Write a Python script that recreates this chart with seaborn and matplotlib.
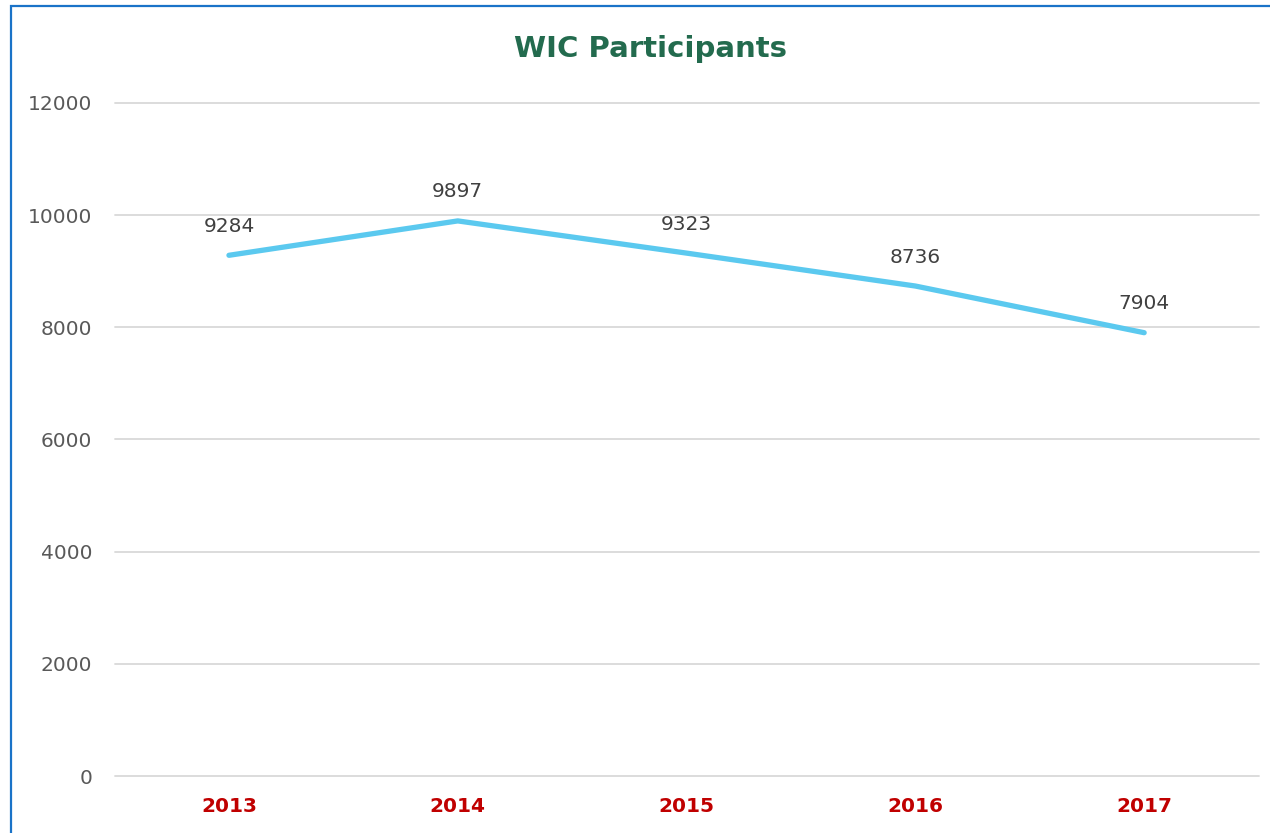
import numpy as np
import pandas as pd
import matplotlib
matplotlib.use("Agg")
import matplotlib.pyplot as plt
import seaborn as sns

# --- data ---
years = ["2013", "2014", "2015", "2016", "2017"]
participants = [9284, 9897, 9323, 8736, 7904]
y_ticks = [0, 2000, 4000, 6000, 8000, 10000, 12000]

df = pd.DataFrame({"year": years, "participants": participants})

sns.set_style("white")
plt.rcParams['font.family'] = ['DejaVu Sans']

fig = plt.figure(figsize=(12.7, 8.33), dpi=100)
ax = fig.add_axes([0.0902, 0.0684, 0.9008, 0.808])

# light grey horizontal gridlines
for t in y_ticks:
    ax.axhline(t, color='#d9d9d9', linewidth=1.3, zorder=0, clip_on=False)

sns.lineplot(data=df, x="year", y="participants", ax=ax, color='#5bc9ef',
             linewidth=3.8, sort=False, solid_capstyle='round', zorder=3)

# data labels above each point
for i, v in enumerate(participants):
    ax.annotate(f"{v}", (i, v), xytext=(0, 14), textcoords='offset points',
                ha='center', va='bottom', fontsize=14.5, color='#404040')

ax.set_xlim(-0.5, len(years) - 0.5)
ax.set_ylim(0, 12000)
ax.set_yticks(y_ticks)
ax.set_yticklabels([str(t) for t in y_ticks], fontsize=14.5, color='#595959')
ax.set_xticks(range(len(years)))
ax.set_xticklabels(years, fontsize=14.5, fontweight='bold', color='#c00000')
ax.tick_params(axis='y', length=0, pad=16)
ax.tick_params(axis='x', length=0, pad=15)
ax.set_xlabel("")
ax.set_ylabel("")
for s in ax.spines.values():
    s.set_visible(False)

fig.text(0.512, 0.941, "WIC Participants", ha='center', va='center',
         fontsize=21, fontweight='bold', color='#236b4e')

# blue chart border (right and bottom edges fall outside the crop)
border = plt.Rectangle((11 / 1270, -0.05), 1.2, 0.05 + (833 - 6) / 833,
                       transform=fig.transFigure, fill=False,
                       edgecolor='#1a73c8', linewidth=1.6)
fig.patches.append(border)

fig.savefig("out.png", dpi=100)
